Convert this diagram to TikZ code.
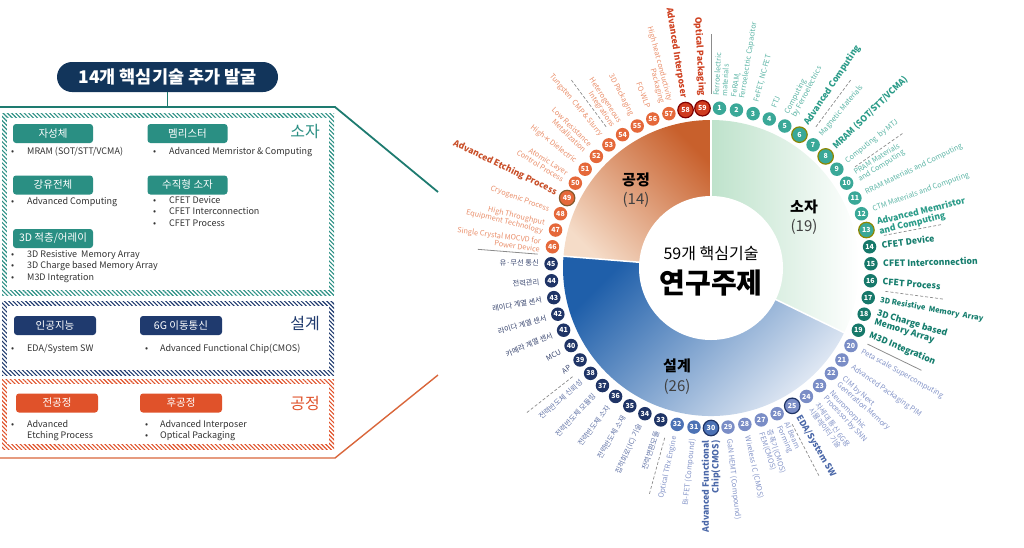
\documentclass[tikz,border=0pt]{standalone}
\usepackage{fontspec}
\setmainfont{Noto Sans CJK KR}
\usetikzlibrary{patterns.meta}
% left panel colours
\definecolor{bannerc}{HTML}{12355B}
\definecolor{tealA}{HTML}{2A8F83}
\definecolor{tealL}{HTML}{1E7B70}
\definecolor{navyA}{HTML}{1F3A6E}
\definecolor{orngA}{HTML}{E0522A}
\definecolor{orngL}{HTML}{D9663A}
\definecolor{txtA}{HTML}{333333}
% circle colours
\definecolor{cT}{HTML}{3AA898}
\definecolor{cTD}{HTML}{16786A}
\definecolor{cB}{HTML}{7A8DC6}
\definecolor{cM}{HTML}{4C72B5}
\definecolor{cN}{HTML}{1F3466}
\definecolor{cO}{HTML}{E5683A}
\definecolor{cR}{HTML}{CF3B1F}
% label colours
\definecolor{lT}{HTML}{5DB5A6}
\definecolor{bT}{HTML}{2A9B88}
\definecolor{bTD}{HTML}{157D6D}
\definecolor{lB}{HTML}{8595C8}
\definecolor{bB}{HTML}{4A67A8}
\definecolor{nB}{HTML}{6677A8}
\definecolor{nD}{HTML}{3A4770}
\definecolor{lO}{HTML}{E98F6B}
\definecolor{bO}{HTML}{C9502A}
\definecolor{bR}{HTML}{CF4222}
% sector colours
\definecolor{gDark}{HTML}{BEE2CB}
\definecolor{bDark}{HTML}{1F5FAA}
\definecolor{bLight}{HTML}{EEF2F9}
\definecolor{oDark}{HTML}{C8602C}
\definecolor{oLight}{HTML}{F5DCC8}
\definecolor{sepc}{HTML}{8C8C8C}

\newcommand\bu{\makebox[16pt][l]{•}}
\newcommand\ringitem[4]{%
  \pgfmathsetmacro\ang{90-(#1-0.5)*6.101695}%
  \node[numc,#2] (c#1) at (\ang:160) {#1};%
  \pgfmathtruncatemacro\isleft{\ang<-90 ? 1 : 0}%
  \ifnum\isleft=1
    \pgfmathsetmacro\rot{\ang+180}%
    \node[#3,anchor=east,align=right,rotate=\rot] (l#1) at (\ang:172) {#4};%
  \else
    \node[#3,anchor=west,align=left,rotate=\ang] (l#1) at (\ang:172) {#4};%
  \fi}

\begin{document}
\begin{tikzpicture}[x=1pt,y=-1pt,
  every node/.style={inner sep=0pt},
  ban/.style={fill=bannerc, rounded corners=15pt, minimum width=221, minimum height=30, text=white, font=\fontsize{17.5}{17.5}\selectfont\bfseries},
  tag/.style={fill=#1, rounded corners=3pt, minimum width=80, minimum height=19, text=white, font=\fontsize{10.5}{10.5}\selectfont},
  sect/.style={text=#1, font=\fontsize{16}{16}\selectfont},
  bul/.style={anchor=west, align=left, text=txtA, font=\fontsize{9}{11.5}\selectfont},
  hatch/.style={pattern={Lines[angle=-45,distance=3pt,line width=1.1pt]}, pattern color=#1},
  link/.style={draw=#1, line width=1.8pt},
  numc/.style={circle, minimum size=13.5, text=white, font=\fontsize{7}{7}\selectfont\bfseries},
  cirT/.style={fill=cT}, cirTD/.style={fill=cTD}, cirB/.style={fill=cB}, cirM/.style={fill=cM},
  cirN/.style={fill=cN}, cirO/.style={fill=cO}, cirR/.style={fill=cR},
  hl/.style={draw=#1, line width=1.2pt, minimum size=15.5},
  lab/.style={font=\fontsize{7.3}{8.1}\selectfont},
  blab/.style={font=\fontsize{8.7}{9.6}\selectfont\bfseries},
  labT/.style={lab, text=lT}, blabT/.style={blab, text=bT}, blabTD/.style={blab, text=bTD},
  blabTDs/.style={font=\fontsize{7.5}{8.5}\selectfont\bfseries, text=bTD},
  labB/.style={lab, text=lB}, blabB/.style={blab, text=bB},
  labNB/.style={lab, text=nB}, labND/.style={lab, text=nD},
  labO/.style={lab, text=lO}, blabO/.style={blab, text=bO}, blabR/.style={blab, text=bR},
  sepd/.style={draw=sepc, line width=0.7pt, dash pattern=on 3pt off 2pt},
  seps/.style={draw=sepc, line width=0.8pt}
]
\useasboundingbox (0,0) rectangle (1024,547);

% ---------------- left panel ----------------
\fill[hatch=tealA] (2,113) rectangle (334,295);
\fill[white] (7,118) rectangle (329,290);
\fill[hatch=navyA] (2,301) rectangle (334,375);
\fill[white] (7,306) rectangle (329,370);
\fill[hatch=orngA] (2,379) rectangle (334,449);
\fill[white] (7,384) rectangle (329,444);

\node[ban] (ban) at (167.5,77) {14개 핵심기술 추가 발굴};
\coordinate (tj) at (167.5,107);
\coordinate (tl) at (0,107);
\coordinate (tr) at (335,107);
\coordinate (te) at (438,192);
\draw[link=tealL] (ban.south) -- (tj);
\draw[link=tealL] (tl) -- (tr) -- (te);
\coordinate (ol) at (0,458);
\coordinate (or) at (335,458);
\coordinate (oe) at (438,375);
\draw[link=orngL, line width=1.4pt] (ol) -- (or) -- (oe);

% section 1
\node[tag=tealA] (g1) at (53,133.5) {자성체};
\node[tag=tealA] (g2) at (187.5,133.5) {멤리스터};
\node[tag=tealA] (g3) at (53,185) {강유전체};
\node[tag=tealA] (g4) at (187.5,185) {수직형 소자};
\node[tag=tealA] (g5) at (53,238.5) {3D 적층/어레이};
\node[sect=tealA] (s1) at (305,132) {소자};
\node[bul] (b1) at (11,152) {\bu MRAM (SOT/STT/VCMA)};
\node[bul] (b2) at (153,152) {\bu Advanced Memristor \& Computing};
\node[bul] (b3) at (11,202) {\bu Advanced Computing};
\node[bul,anchor=north west] (b4) at (153,196) {\bu CFET Device\\\bu CFET Interconnection\\\bu CFET Process};
\node[bul,anchor=north west] (b5) at (11,250) {\bu 3D Resistive~ Memory Array\\\bu 3D Charge based Memory Array\\\bu M3D Integration};

% section 2
\node[tag=navyA, minimum width=82] (g6) at (55,325.5) {인공지능};
\node[tag=navyA, minimum width=82] (g7) at (181,325.5) {6G 이동통신};
\node[sect=navyA] (s2) at (305,323) {설계};
\node[bul] (b6) at (11,349) {\bu EDA/System SW};
\node[bul] (b7) at (145,349) {\makebox[15pt][l]{•}Advanced Functional Chip(CMOS)};

% section 3
\node[tag=orngA, minimum width=82] (g8) at (57,403) {전공정};
\node[tag=orngA, minimum width=82] (g9) at (181,403) {후공정};
\node[sect=orngA] (s3) at (305,403) {공정};
\node[bul,anchor=north west] (b8) at (11,420) {\bu Advanced\\\makebox[16pt]{}Etching Process};
\node[bul,anchor=north west] (b9) at (145,420) {\makebox[15pt][l]{•}Advanced Interposer\\\makebox[15pt][l]{•}Optical Packaging};

% ---------------- right: circle ----------------
\begin{scope}[shift={(711,268)}, y=1pt]
  \shade[left color=gDark, right color=white]
    (0,0) -- (90:148) arc[start angle=90, end angle=-25.93, radius=148] -- cycle;
  \shade[top color=bDark, bottom color=bLight, shading angle=45]
    (0,0) -- (-25.93:148) arc[start angle=-25.93, end angle=-184.58, radius=148] -- cycle;
  \shade[top color=oDark, bottom color=oLight, shading angle=-45]
    (0,0) -- (175.42:148) arc[start angle=175.42, end angle=90, radius=148] -- cycle;
  \foreach \a in {90,-25.93,175.42} { \draw[white, line width=1.5pt] (\a:70) -- (\a:149); }
  \node[circle, fill=white, minimum size=144] (hub) at (0,0) {};
  \node[font=\fontsize{16}{16}\selectfont] (t1) at (0,15) {59개 핵심기술};
  \node[font=\fontsize{28}{28}\selectfont\bfseries] (t2) at (0,-15) {연구주제};
  \node[font=\fontsize{15}{15}\selectfont\bfseries] (n1) at (93,61) {소자};
  \node[font=\fontsize{15}{15}\selectfont, text=black!75] (n1b) at (93,41) {(19)};
  \node[font=\fontsize{15}{15}\selectfont\bfseries] (n2) at (-75,88) {공정};
  \node[font=\fontsize{15}{15}\selectfont, text=black!75] (n2b) at (-75,68) {(14)};
  \node[font=\fontsize{15}{15}\selectfont\bfseries] (n3) at (-34,-98) {설계};
  \node[font=\fontsize{15}{15}\selectfont, text=black!75] (n3b) at (-34,-119) {(26)};

  \foreach \k in {6,9,13,16,25,32,38,53} {
    \pgfmathsetmacro\a{90-\k*6.101695}
    \draw[sepd] (\a:176) -- (\a:234);
  }
  \foreach \a in {90,-25.93,175.42} { \draw[seps] (\a:174) -- (\a:234); }

  \ringitem{1}{cirT}{labT}{Ferroelectric\\materials}
  \ringitem{2}{cirT}{labT}{FeRAM,\\Ferroelectric Capacitor}
  \ringitem{3}{cirT}{labT}{FeFET, NC-FET}
  \ringitem{4}{cirT}{labT}{FTJ}
  \ringitem{5}{cirT}{labT}{Computing\\by Ferroelectrics}
  \ringitem{6}{cirT,hl=olive}{blabT}{Advanced Computing}
  \ringitem{7}{cirT}{labT}{Magnetic Materials}
  \ringitem{8}{cirT,hl=olive}{blabT}{MRAM (SOT/STT/VCMA)}
  \ringitem{9}{cirT}{labT}{Computing~ by MTJ}
  \ringitem{10}{cirT}{labT}{PRAM Materials\\and Computing}
  \ringitem{11}{cirT}{labT}{RRAM Materials and Computing}
  \ringitem{12}{cirT}{labT}{CTM Materials and Computing}
  \ringitem{13}{cirT,hl=olive}{blabT}{Advanced Memristor\\and Computing}
  \ringitem{14}{cirTD}{blabTD}{CFET Device}
  \ringitem{15}{cirTD}{blabTD}{CFET Interconnection}
  \ringitem{16}{cirTD}{blabTD}{CFET Process}
  \ringitem{17}{cirTD}{blabTDs}{3D Resistive~ Memory~ Array}
  \ringitem{18}{cirTD}{blabTD}{3D Charge based\\Memory Array}
  \ringitem{19}{cirTD}{blabTD}{M3D Integration}
  \ringitem{20}{cirB}{labB}{Peta scale Supercomputing}
  \ringitem{21}{cirB}{labB}{Advanced Packaging PIM}
  \ringitem{22}{cirB}{labB}{CIM by Next\\Generation Memory}
  \ringitem{23}{cirB}{labB}{Neuromorphic\\Processor by SNN}
  \ringitem{24}{cirB}{labB}{차세대 통신 6G용\\시뮬레이터 기술}
  \ringitem{25}{cirB,hl=cN}{blabB}{EDA/System SW}
  \ringitem{26}{cirB}{labB}{AI Beam\\Forming}
  \ringitem{27}{cirB}{labB}{증폭기(CMOS)\\FEM(CMOS)}
  \ringitem{28}{cirB}{labB}{Wireless IC (CMOS)}
  \ringitem{29}{cirB}{labB}{GaN HEMT (Compound)}
  \ringitem{30}{cirM,hl=cN}{blabB}{Advanced Functional\\Chip(CMOS)}
  \ringitem{31}{cirM}{labB}{Bi-FET (Compound)}
  \ringitem{32}{cirM}{labB}{Optical TRx Engine}
  \ringitem{33}{cirN}{labNB}{전력변환모듈}
  \ringitem{34}{cirN}{labNB}{집적회로(IC) 기술}
  \ringitem{35}{cirN}{labNB}{전력반도체 소재}
  \ringitem{36}{cirN}{labNB}{전력반도체 소자}
  \ringitem{37}{cirN}{labNB}{전력반도체 모듈링}
  \ringitem{38}{cirN}{labNB}{전력반도체 신뢰성}
  \ringitem{39}{cirN}{labND}{AP}
  \ringitem{40}{cirN}{labND}{MCU}
  \ringitem{41}{cirN}{labND}{카메라 계열 센서}
  \ringitem{42}{cirN}{labND}{라이다 계열 센서}
  \ringitem{43}{cirN}{labND}{레이다 계열 센서}
  \ringitem{44}{cirN}{labND}{전력관리}
  \ringitem{45}{cirN}{labND}{유·무선 통신}
  \ringitem{46}{cirO}{labO}{Single Crystal MOCVD for\\Power Device}
  \ringitem{47}{cirO}{labO}{High Throughput\\Equipment Technology}
  \ringitem{48}{cirO}{labO}{Cryogenic Process}
  \ringitem{49}{cirO,hl=brown!70!black}{blabO}{Advanced Etching Process}
  \ringitem{50}{cirO}{labO}{Atomic Layer\\Control Process}
  \ringitem{51}{cirO}{labO}{High-κ Dielectric}
  \ringitem{52}{cirO}{labO}{Low Resistance\\Metallization}
  \ringitem{53}{cirO}{labO}{Tungsten~ CMP \& Slurry}
  \ringitem{54}{cirO}{labO}{Heterogeneous\\Integrations}
  \ringitem{55}{cirO}{labO}{3D Packaging}
  \ringitem{56}{cirO}{labO}{FO-WLP}
  \ringitem{57}{cirO}{labO}{High heat conductivity\\Packaging}
  \ringitem{58}{cirR,hl=red!50!black}{blabR}{Advanced Interposer}
  \ringitem{59}{cirR,hl=red!50!black}{blabR}{Optical Packaging}
\end{scope}
\end{tikzpicture}
\end{document}
